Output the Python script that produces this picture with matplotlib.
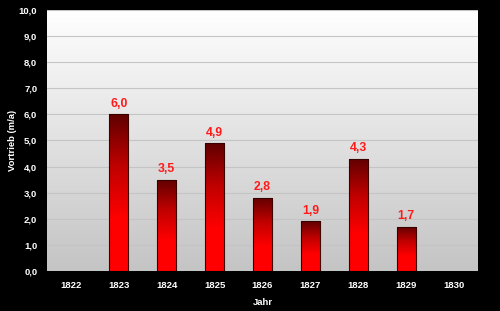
import numpy as np
import matplotlib.pyplot as plt
from matplotlib.colors import LinearSegmentedColormap
from matplotlib.patches import Rectangle

# data
years = ["1822", "1823", "1824", "1825", "1826", "1827", "1828", "1829", "1830"]
values = [None, 6.0, 3.5, 4.9, 2.8, 1.9, 4.3, 1.7, None]
y_ticks = [0, 1, 2, 3, 4, 5, 6, 7, 8, 9, 10]

plt.rcParams['font.family'] = ['Liberation Sans', 'DejaVu Sans']
plt.rcParams['font.weight'] = 'bold'

fig = plt.figure(figsize=(5, 3.11), dpi=100, facecolor='black')
ax = fig.add_axes([47 / 500, 1 - 271 / 311, 431 / 500, 261 / 311])
ax.set_facecolor('black')

n = len(years)
ax.set_xlim(-0.5, n - 0.5)
ax.set_ylim(0, 10)

# background gradient white -> gray
bg = LinearSegmentedColormap.from_list('bg', ['#c4c4c4', '#ffffff'])
grad = np.linspace(0, 1, 256).reshape(-1, 1)
ax.imshow(grad, cmap=bg, aspect='auto', origin='lower',
          extent=(-0.5, n - 0.5, 0, 10), zorder=0)

for t in y_ticks[1:]:
    ax.axhline(t, color='#c4c4c4', lw=0.8, zorder=1)

# bars with vertical red gradient
bar_cmap = LinearSegmentedColormap.from_list('bar', ['#ff0000', '#ff0000', '#c00000', '#600000'])
bw = 0.4
for i, v in enumerate(values):
    if v is None:
        continue
    im = ax.imshow(grad, cmap=bar_cmap, aspect='auto', origin='lower',
                   extent=(i - bw / 2, i + bw / 2, 0, v), zorder=2)
    rect = Rectangle((i - bw / 2, 0), bw, v, facecolor='none',
                     edgecolor='#3a0000', lw=0.8, zorder=3)
    ax.add_patch(rect)
    im.set_clip_path(rect)
    ax.text(i, v + 0.17, f"{v:.1f}".replace('.', ','), ha='center', va='bottom',
            color='#ff1a1a', fontsize=8.8, fontweight='bold', zorder=4)

ax.set_xticks(range(n))
ax.set_xticklabels(years)
ax.set_yticks(y_ticks)
ax.set_yticklabels([f"{t:.1f}".replace('.', ',') for t in y_ticks])
ax.tick_params(colors='white', labelsize=6.8, length=0, pad=7)
for lab in ax.get_xticklabels() + ax.get_yticklabels():
    lab.set_fontweight('bold')
for s in ax.spines.values():
    s.set_visible(False)

ax.set_xlabel("Jahr", color='white', fontsize=6.8, fontweight='bold', labelpad=6)
ax.set_ylabel("Vortrieb (m/a)", color='white', fontsize=6.8, fontweight='bold', labelpad=1)

fig.savefig('out.png', dpi=100, facecolor='black')
